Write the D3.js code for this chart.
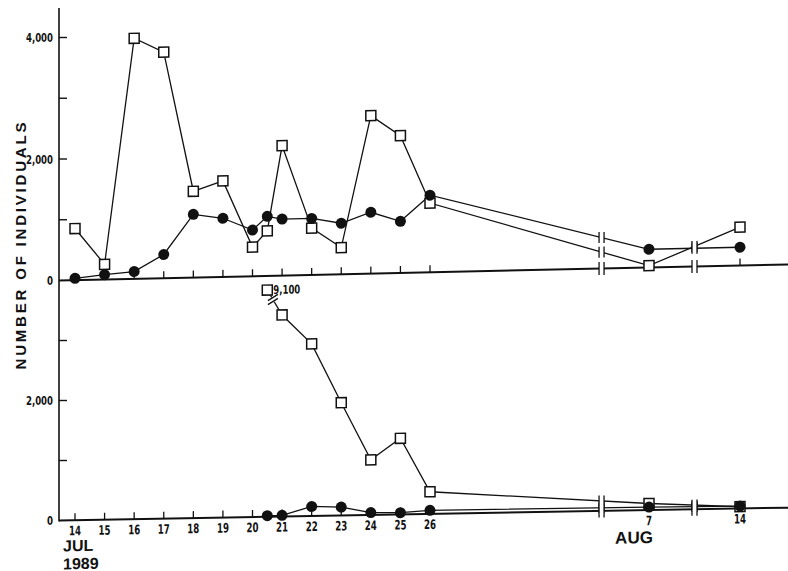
<!DOCTYPE html>
<html>
<head>
<meta charset="utf-8">
<script src="https://cdn.jsdelivr.net/npm/d3@7"></script>
<style>
  body { margin: 0; background: #fff; }
  svg { display: block; }
  text { font-family: "DejaVu Sans Condensed", "DejaVu Sans", sans-serif; font-weight: bold; fill: #111; }
  .big { font-family: "Liberation Sans", Arial, sans-serif; }
</style>
</head>
<body>
<div id="chart"></div>
<script>
/*
    DATA  (day numbers in July; Aug 7 = 38, Aug 14 = 45)
*/
let TOP_DAYS = [14, 15, 16, 17, 18, 19, 20, 20.5, 21, 22, 23, 24, 25, 26, 38, 45];
let TOP_SQUARES = [850, 250, 3960, 3720, 1420, 1580, 480, 740, 2140, 770, 440, 2600, 2260, 1140, 30, 630];
let TOP_CIRCLES = [30, 80, 120, 390, 1040, 965, 760, 980, 930, 930, 840, 1010, 850, 1270, 300, 300];

let BOT_DAYS = [20.5, 21, 22, 23, 24, 25, 26, 38, 45];
let BOT_SQUARES = [9100, 3360, 2870, 1880, 920, 1270, 370, 110, 30];
let BOT_CIRCLES = [20, 20, 160, 140, 40, 30, 60, 50, 40];

let TICK_DAYS = [14, 15, 16, 17, 18, 19, 20, 21, 22, 23, 24, 25, 26, 38, 45];
let TICK_LABELS = ["14", "15", "16", "17", "18", "19", "20", "21", "22", "23", "24", "25", "26", "7", "14"];
let BREAK_DAYS = [35.4, 41.5];

let TOP_Y_TICKS = [0, 1000, 2000, 3000, 4000];
let BOT_Y_TICKS = [0, 1000, 2000, 3000];
let Y_LABELLED = [0, 2000, 4000];
let BOT_CAP = 3780; // 9,100 is drawn off-scale at the top of the lower panel

/*
    LAYOUT
*/
let SIZE = { width: 788, height: 571 };
let AXIS_X = 59;

var svg = d3.select("#chart").append("svg")
    .attr("width", SIZE.width)
    .attr("height", SIZE.height);

var x = d3.scaleLinear().domain([14, 26, 38, 45]).range([75, 430, 649, 740]);
var yTop = d3.scaleLinear().domain([0, 4000]).range([280.5, 37.5]);
var yBot = d3.scaleLinear().domain([0, 3000]).range([520.5, 340.5]);

// the figure uses a tall condensed face for numbers; squeeze the glyphs
function narrowLen(s) {
    return s.split("").reduce((w, c) => w + (c === "," ? 3 : 6), 0);
}

// y axis (one line through both panels)
svg.append("line")
    .attr("x1", AXIS_X).attr("x2", AXIS_X)
    .attr("y1", 8).attr("y2", yBot(0) + 1)
    .attr("stroke", "#111").attr("stroke-width", 1.6);

function yTicks(scale, ticks) {
    var g = svg.append("g");
    g.selectAll("line").data(ticks.filter(t => t > 0)).enter().append("line")
        .attr("x1", AXIS_X).attr("x2", AXIS_X + 8)
        .attr("y1", d => scale(d)).attr("y2", d => scale(d))
        .attr("stroke", "#111").attr("stroke-width", 1.4);
    g.selectAll("text").data(ticks.filter(t => Y_LABELLED.includes(t))).enter().append("text")
        .attr("x", AXIS_X - 6).attr("y", d => scale(d))
        .attr("dy", "0.36em")
        .attr("text-anchor", "end")
        .attr("textLength", d => narrowLen(d3.format(",")(d)))
        .attr("lengthAdjust", "spacingAndGlyphs")
        .style("font-size", "13px")
        .text(d => d3.format(",")(d));
}
yTicks(yTop, TOP_Y_TICKS);
yTicks(yBot, BOT_Y_TICKS);

svg.append("text")
    .attr("class", "big")
    .attr("transform", "translate(26,246) rotate(-90)")
    .attr("text-anchor", "middle")
    .attr("textLength", 247)
    .attr("lengthAdjust", "spacing")
    .style("font-size", "15px")
    .text("NUMBER OF INDIVIDUALS");

// the hand-drawn baselines lean upward to the right; skew each panel to follow
function panel(scale, angle) {
    var y0 = scale(0);
    return svg.append("g")
        .attr("transform", `translate(${AXIS_X},${y0}) skewY(${angle}) translate(${-AXIS_X},${-y0})`);
}

function drawBreak(g, bx, by, h) {
    g.append("rect")
        .attr("x", bx - 2.5).attr("y", by - h / 2)
        .attr("width", 5).attr("height", h)
        .attr("fill", "#fff");
    [-2.5, 2.5].forEach(off => {
        g.append("line")
            .attr("x1", bx + off).attr("x2", bx + off)
            .attr("y1", by - h / 2).attr("y2", by + h / 2)
            .attr("stroke", "#111").attr("stroke-width", 1.3);
    });
}

function lineYAt(days, vals, scale, day) {
    for (var i = 0; i < days.length - 1; i++) {
        if (days[i] <= day && day <= days[i + 1]) {
            var x0 = x(days[i]), x1 = x(days[i + 1]);
            var t = (x(day) - x0) / (x1 - x0);
            return scale(vals[i]) + t * (scale(vals[i + 1]) - scale(vals[i]));
        }
    }
    return null;
}

function drawPanel(g, scale, days, squares, circles) {
    var y0 = scale(0);
    g.append("line")
        .attr("x1", AXIS_X).attr("x2", SIZE.width)
        .attr("y1", y0).attr("y2", y0)
        .attr("stroke", "#111").attr("stroke-width", 2);
    g.selectAll(".tick").data(TICK_DAYS).enter().append("line")
        .attr("x1", d => x(d)).attr("x2", d => x(d))
        .attr("y1", y0).attr("y2", y0 - 7)
        .attr("stroke", "#111").attr("stroke-width", 1.3);

    var line = d3.line().x(d => x(d[0])).y(d => scale(d[1]));
    [circles, squares].forEach(vals => {
        g.append("path")
            .datum(days.map((d, i) => [d, vals[i]]))
            .attr("d", line)
            .attr("fill", "none")
            .attr("stroke", "#111")
            .attr("stroke-width", 1.3);
    });

    BREAK_DAYS.forEach(bd => {
        drawBreak(g, x(bd), y0, 13);
        [circles, squares].forEach(vals => {
            var by = lineYAt(days, vals, scale, bd);
            if (by !== null) drawBreak(g, x(bd), by, 11);
        });
    });

    g.selectAll(".sq").data(days.map((d, i) => [d, squares[i]])).enter().append("rect")
        .attr("x", d => x(d[0]) - 5).attr("y", d => scale(d[1]) - 5)
        .attr("width", 10).attr("height", 10)
        .attr("fill", "#fff").attr("stroke", "#111").attr("stroke-width", 1.5);
    g.selectAll(".ci").data(days.map((d, i) => [d, circles[i]])).enter().append("circle")
        .attr("cx", d => x(d[0])).attr("cy", d => scale(d[1]))
        .attr("r", 5.5)
        .attr("fill", "#111");
}

/*
    TOP PANEL
*/
var topPanel = panel(yTop, -1.264);
drawPanel(topPanel, yTop, TOP_DAYS, TOP_SQUARES, TOP_CIRCLES);

/*
    BOTTOM PANEL
*/
var botPanel = panel(yBot, -1.01);
var botSquaresShown = BOT_SQUARES.map(v => Math.min(v, BOT_CAP));
drawPanel(botPanel, yBot, BOT_DAYS, botSquaresShown, BOT_CIRCLES);

// off-scale value label and the slash break on its segment
var offIdx = BOT_SQUARES.findIndex(v => v > BOT_CAP);
var ox = x(BOT_DAYS[offIdx]), oy = yBot(BOT_CAP);
var offLabel = d3.format(",")(BOT_SQUARES[offIdx]);
botPanel.append("text")
    .attr("x", ox + 6).attr("y", oy + 4)
    .attr("textLength", narrowLen(offLabel))
    .attr("lengthAdjust", "spacingAndGlyphs")
    .style("font-size", "12px")
    .text(offLabel);
var nx = x(BOT_DAYS[offIdx + 1]), ny = yBot(BOT_SQUARES[offIdx + 1]);
var mx = ox + (nx - ox) * 0.38, my = oy + (ny - oy) * 0.38;
botPanel.append("circle").attr("cx", mx).attr("cy", my).attr("r", 2.5).attr("fill", "#fff");
[-2, 2].forEach(off => {
    botPanel.append("line")
        .attr("x1", mx - 5).attr("x2", mx + 5)
        .attr("y1", my + off + 3).attr("y2", my + off - 3)
        .attr("stroke", "#111").attr("stroke-width", 1.3);
});

// x tick labels under the lower panel
botPanel.selectAll(".xl").data(TICK_DAYS).enter().append("text")
    .attr("x", d => x(d)).attr("y", yBot(0) + 15)
    .attr("text-anchor", "middle")
    .attr("textLength", (d, i) => narrowLen(TICK_LABELS[i]))
    .attr("lengthAdjust", "spacingAndGlyphs")
    .style("font-size", "13px")
    .text((d, i) => TICK_LABELS[i]);

// month / year labels
botPanel.append("text").attr("class", "big")
    .attr("x", 63).attr("y", yBot(0) + 31)
    .style("font-size", "16px")
    .text("JUL");
botPanel.append("text").attr("class", "big")
    .attr("x", 63).attr("y", yBot(0) + 49)
    .style("font-size", "16px")
    .text("1989");

botPanel.append("text").attr("class", "big")
    .attr("x", x(38) - 15).attr("y", yBot(0) + 33)
    .attr("text-anchor", "middle")
    .style("font-size", "17px")
    .text("AUG");
</script>
</body>
</html>
